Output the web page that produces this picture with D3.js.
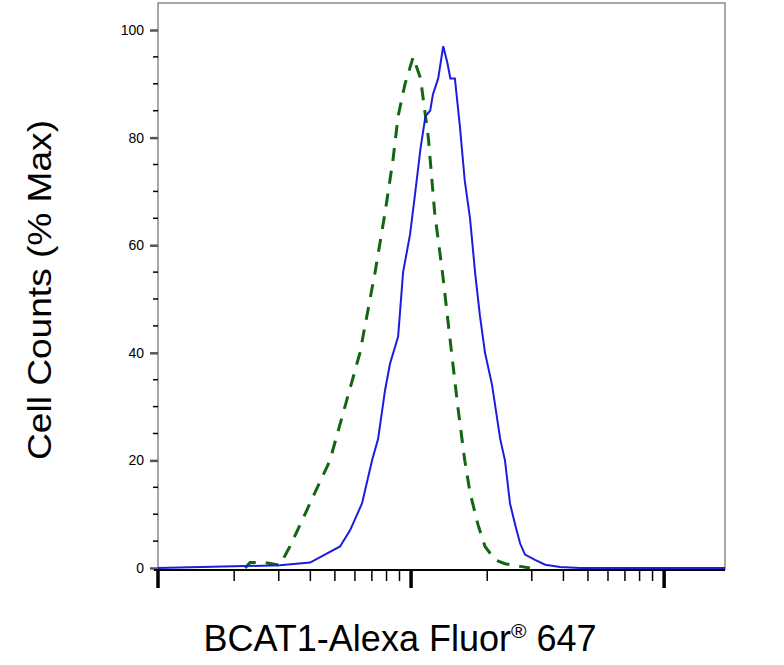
<!DOCTYPE html>
<html><head><meta charset="utf-8">
<script src="https://cdn.jsdelivr.net/npm/d3@7"></script>
<style>body{margin:0;background:#fff}</style>
</head><body>
<svg width="784" height="665"></svg>
<script>
// sample (blue) histogram
const sampleX = [1, 3.03, 3.99, 5.24, 5.74, 6.40, 7.01, 7.41, 7.89, 8.26, 8.89, 9.30, 9.91, 10.4, 10.9, 11.4, 11.9, 12.2, 12.8, 13.4, 13.9, 14.3, 14.9, 15.6, 16.3, 17.1, 17.9, 18.7, 19.6, 20.9, 22.5, 23.5, 24.6, 25.8, 27.0, 28.2, 30.9, 33.9, 38.8, 46.5, 174];
const sampleY = [0, 0.5, 1, 4, 7, 12, 20, 24, 33, 38, 43, 55, 62, 70, 78, 84, 85, 88, 91, 97, 94, 91, 91, 82, 72, 65, 55, 47, 40, 34, 24, 20, 12, 8, 4.5, 2.5, 1.5, 0.6, 0.2, 0, 0];
// isotype control (green dashed)
const controlX = [2.21, 2.31, 2.65, 3.03, 3.32, 3.64, 4.17, 4.78, 5.48, 6.28, 7.21, 7.89, 8.49, 8.89, 9.47, 10.2, 10.9, 11.7, 12.4, 13.3, 14.3, 15.3, 16.3, 17.1, 18.4, 19.6, 21.5, 23.5, 27.0, 29.5];
const controlY = [0, 1, 1, 0.5, 4, 8, 14, 20, 30, 40, 55, 66, 76, 84, 90, 95, 91, 80, 66, 55, 42, 30, 20, 14, 8, 4, 1.5, 0.8, 0.3, 0];
const yTicks = [0, 20, 40, 60, 80, 100];

const svg = d3.select('svg');
const mLeft = 158, mRight = 725, mTop = 3, mBottom = 570;

const x = d3.scaleLog().domain([1, 174]).range([mLeft, mRight]);
const y = d3.scaleLinear().domain([0, 100]).range([568, 30]);

// frame
svg.append('path')
    .attr('d', `M${mLeft},${mBottom}V${mTop}H${mRight}V${mBottom}`)
    .attr('fill', 'none').attr('stroke', '#8a8a8a').attr('stroke-width', 1.5);

// y axis
const yAxis = d3.axisLeft(y).tickValues(yTicks).tickSize(8).tickPadding(6);
const gy = svg.append('g').attr('transform', `translate(${mLeft},0)`).call(yAxis);
gy.select('.domain').remove();
gy.selectAll('.tick line').attr('stroke', '#555').attr('stroke-width', 2.5);
gy.selectAll('.tick text').attr('font-family', 'Liberation Sans, Arial').attr('font-size', 14).attr('fill', '#000');
const yMinor = d3.range(5, 100, 5).filter(v => v % 20 !== 0);
svg.append('g').selectAll('line').data(yMinor).enter().append('line')
    .attr('x1', mLeft - 5).attr('x2', mLeft)
    .attr('y1', d => y(d)).attr('y2', d => y(d))
    .attr('stroke', '#000').attr('stroke-width', 1.5);

// x axis
svg.append('line').attr('x1', mLeft - 4).attr('x2', mRight).attr('y1', mBottom).attr('y2', mBottom)
    .attr('stroke', '#000').attr('stroke-width', 2);
const xMinor = [];
[1, 10, 100].forEach(dec => { for (let k = 2; k < 10; k++) if (dec * k <= 174) xMinor.push(dec * k); });
svg.append('g').selectAll('line').data(xMinor).enter().append('line')
    .attr('x1', d => x(d)).attr('x2', d => x(d))
    .attr('y1', mBottom).attr('y2', mBottom + 11)
    .attr('stroke', '#000').attr('stroke-width', 1.5);
svg.append('g').selectAll('line').data([1, 10, 100]).enter().append('line')
    .attr('x1', d => x(d)).attr('x2', d => x(d))
    .attr('y1', mBottom).attr('y2', mBottom + 18)
    .attr('stroke', '#000').attr('stroke-width', 3.5);

const line = d3.line().x(d => x(d[0])).y(d => y(d[1]));

svg.append('path')
    .attr('d', line(d3.zip(controlX, controlY)))
    .attr('fill', 'none').attr('stroke', '#116611').attr('stroke-width', 3)
    .attr('stroke-dasharray', '13,10');

svg.append('path')
    .attr('d', line(d3.zip(sampleX, sampleY)))
    .attr('fill', 'none').attr('stroke', '#1c1ce0').attr('stroke-width', 2);

// titles
svg.append('text')
    .attr('transform', 'translate(51,290) rotate(-90)')
    .attr('text-anchor', 'middle')
    .attr('font-family', 'Liberation Sans, Arial').attr('font-size', 33)
    .attr('textLength', 340).attr('lengthAdjust', 'spacingAndGlyphs')
    .text('Cell Counts (% Max)');

const xt = svg.append('text')
    .attr('x', 400).attr('y', 651)
    .attr('text-anchor', 'middle')
    .attr('font-family', 'Liberation Sans, Arial').attr('font-size', 36);
xt.append('tspan').text('BCAT1-Alexa Fluor');
xt.append('tspan').attr('font-size', 21).attr('dy', -13).text('®');
xt.append('tspan').attr('dy', 13).text(' 647');
</script>
</body></html>
